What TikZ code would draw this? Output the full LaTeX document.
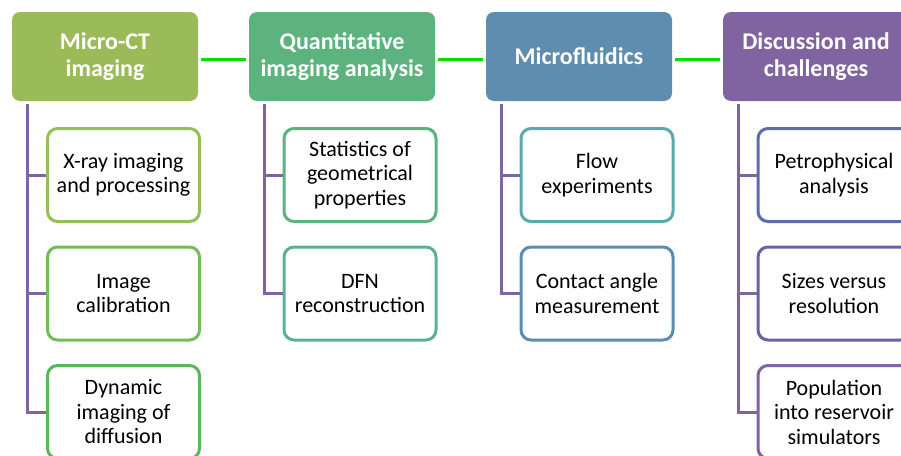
\documentclass[tikz,border=0pt]{standalone}
\usepackage{fontspec}
\setmainfont{Carlito}
\definecolor{hdolive}{HTML}{9BBB59}
\definecolor{hdgreen}{HTML}{5CB37E}
\definecolor{hdblue}{HTML}{5F8DAD}
\definecolor{hdpurple}{HTML}{8064A2}
\definecolor{bxa}{HTML}{95BF5A}
\definecolor{bxb}{HTML}{74BC57}
\definecolor{bxc}{HTML}{5BB55C}
\definecolor{bxd}{HTML}{5CB37E}
\definecolor{bxe}{HTML}{5BB096}
\definecolor{bxf}{HTML}{5AAAB0}
\definecolor{bxg}{HTML}{5B8DB0}
\definecolor{bxh}{HTML}{5D6DAB}
\definecolor{bxi}{HTML}{6A61A6}
\definecolor{bxj}{HTML}{8064A2}
\definecolor{linkgreen}{RGB}{0,224,0}

\begin{document}
\begin{tikzpicture}[x=1pt,y=-1pt,
  head/.style={fill=#1,rounded corners=8pt,minimum width=186pt,minimum height=89pt,
    text=white,align=center,font=\fontsize{24}{27}\selectfont\bfseries},
  item/.style={draw=#1,line width=3pt,fill=white,rounded corners=10pt,minimum width=152pt,
    minimum height=93pt,align=center,font=\fontsize{22}{24.5}\selectfont},
  link/.style={draw=linkgreen,line width=3pt,shorten <=3pt,shorten >=3pt},
  branch/.style={draw=hdpurple,line width=3pt,shorten <=3pt}]
\useasboundingbox (0,0) rectangle (901,455);
\node[head=hdolive] (h1) at (105,56.5) {Micro-CT\\imaging};
\node[head=hdgreen] (h2) at (342,56.5) {Quantitative\\imaging analysis};
\node[head=hdblue] (h3) at (579,56.5) {Microfluidics};
\node[head=hdpurple] (h4) at (816,56.5) {Discussion and\\challenges};
\draw[link] ([yshift=-3pt]h1.east) -- ([yshift=-3pt]h2.west);
\draw[link] ([yshift=-3pt]h2.east) -- ([yshift=-3pt]h3.west);
\draw[link] ([yshift=-3pt]h3.east) -- ([yshift=-3pt]h4.west);
\node[item=bxa] (c11) at (123.5,175) {X-ray imaging\\and processing};
\node[item=bxb] (c12) at (123.5,293.5) {Image\\calibration};
\node[item=bxc] (c13) at (123.5,412) {Dynamic\\imaging of\\diffusion};
\node[item=bxd] (c21) at (360,175) {Statistics of\\geometrical\\properties};
\node[item=bxe] (c22) at (360,293.5) {DFN\\reconstruction};
\node[item=bxf] (c31) at (597,175) {Flow\\experiments};
\node[item=bxg] (c32) at (597,293.5) {Contact angle\\measurement};
\node[item=bxh] (c41) at (834,175) {Petrophysical\\analysis};
\node[item=bxi] (c42) at (834,293.5) {Sizes versus\\resolution};
\node[item=bxj] (c43) at (834,412) {Population\\into reservoir\\simulators};
\draw[branch] ([xshift=16pt]h1.south west) |- (c11.west);
\draw[branch] ([xshift=16pt]h1.south west) |- (c12.west);
\draw[branch] ([xshift=16pt]h1.south west) |- (c13.west);
\draw[branch] ([xshift=16pt]h2.south west) |- (c21.west);
\draw[branch] ([xshift=16pt]h2.south west) |- (c22.west);
\draw[branch] ([xshift=16pt]h3.south west) |- (c31.west);
\draw[branch] ([xshift=16pt]h3.south west) |- (c32.west);
\draw[branch] ([xshift=16pt]h4.south west) |- (c41.west);
\draw[branch] ([xshift=16pt]h4.south west) |- (c42.west);
\draw[branch] ([xshift=16pt]h4.south west) |- (c43.west);
\end{tikzpicture}
\end{document}
